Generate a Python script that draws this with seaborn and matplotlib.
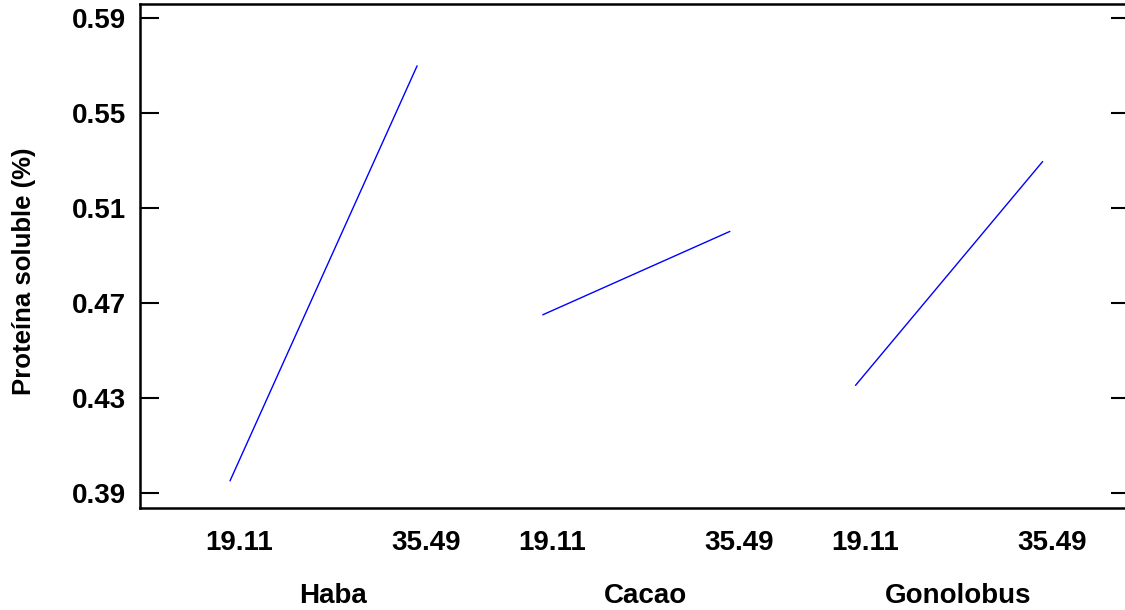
import numpy as np
import pandas as pd
import matplotlib
matplotlib.use("Agg")
import matplotlib.pyplot as plt
import matplotlib.transforms as mtransforms
import seaborn as sns

# ---- data ----
groups = ["Haba", "Cacao", "Gonolobus"]
levels = [19.11, 35.49]
level_labels = ["19.11", "35.49"]
haba = [0.3953, 0.5700]
cacao = [0.4652, 0.5003]
gonolobus = [0.4355, 0.5297]
yticks = [0.39, 0.43, 0.47, 0.51, 0.55, 0.59]

series = {"Haba": haba, "Cacao": cacao, "Gonolobus": gonolobus}

# layout (not data): horizontal spacing between group panels in x units
group_gap = 27.38
label_shift = 0.8

rows = []
for gi, g in enumerate(groups):
    for lv, val in zip(levels, series[g]):
        rows.append({"grupo": g, "pos": lv + gi * group_gap, "val": val})
df = pd.DataFrame(rows)

sns.set_theme(style="white")
plt.rcParams["font.family"] = ["Liberation Sans", "DejaVu Sans"]
plt.rcParams["font.weight"] = "bold"
for k in ["text.color", "axes.labelcolor", "xtick.color", "ytick.color", "axes.edgecolor"]:
    plt.rcParams[k] = "black"

fig = plt.figure(figsize=(11.25, 6.10), dpi=100)
ax = fig.add_axes([140 / 1125, 1 - 507.7 / 610, 990 / 1125, (507.7 - 4.3) / 610])

sns.lineplot(data=df, x="pos", y="val", units="grupo", estimator=None,
             color="#0000FF", linewidth=1.0, ax=ax, legend=False)

ax.set_xlim(11.23, 97.9)
ax.set_ylim(0.3840, 0.5959)

ax.set_yticks(yticks)
ax.set_yticklabels([f"{t:.2f}" for t in yticks], fontsize=20, fontweight="bold")
ax.tick_params(axis="y", which="both", direction="in", length=13.5, width=1.5,
               left=True, right=True, color="black", labelcolor="black", pad=10)

xt, xl = [], []
for gi, g in enumerate(groups):
    for lv, lab in zip(levels, level_labels):
        xt.append(lv + gi * group_gap + label_shift)
        xl.append(lab)
ax.set_xticks(xt)
ax.set_xticklabels(xl, fontsize=20, fontweight="bold")
ax.tick_params(axis="x", length=0, pad=16, labelcolor="black")

trans = mtransforms.blended_transform_factory(ax.transData, ax.transAxes)
for gi, g in enumerate(groups):
    mid = (levels[0] + levels[1]) / 2 + gi * group_gap + label_shift
    ax.text(mid, -0.175, g, transform=trans, ha="center", va="center",
            fontsize=20, fontweight="bold", color="black")

ax.set_xlabel("")
ax.set_ylabel("Proteína soluble (%)", fontsize=18.5, fontweight="bold", color="black")
ax.yaxis.set_label_coords(-0.105, 0.47)

for s in ax.spines.values():
    s.set_color("black")
    s.set_linewidth(1.8)
    s.set_visible(True)

fig.savefig("out.png", dpi=100)
